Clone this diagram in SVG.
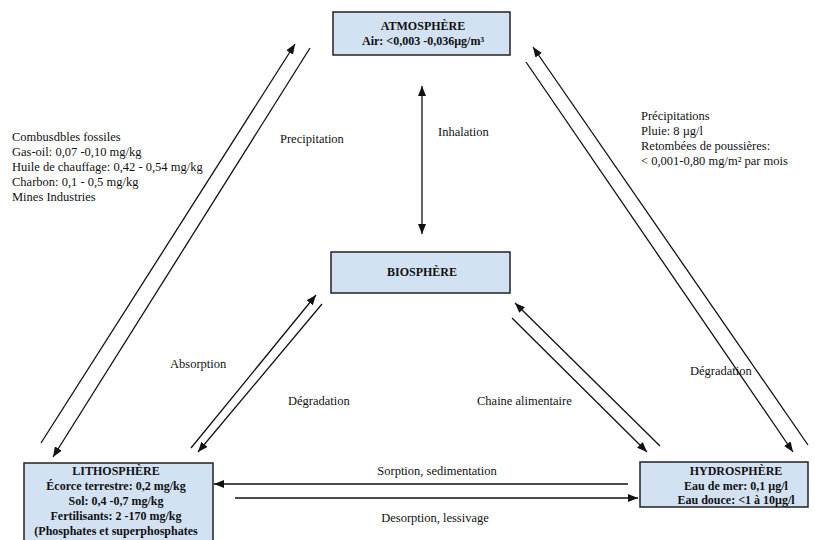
<svg xmlns="http://www.w3.org/2000/svg" width="815" height="540" viewBox="0 0 815 540">
<style>
.box{fill:#d3e2f3;stroke:#222;stroke-width:1.5}
.bt{font-family:'Liberation Serif','DejaVu Serif','Times New Roman',serif;font-size:12px;font-weight:bold;fill:#111;text-anchor:middle}
.lb{font-family:'Liberation Serif','DejaVu Serif','Times New Roman',serif;font-size:12.5px;fill:#111}
.ln{stroke:#111;stroke-width:1.3;fill:none;marker-end:url(#ah)}
</style>
<defs>
<marker id="ah" viewBox="0 0 10 8" refX="10" refY="4" markerWidth="10" markerHeight="8" markerUnits="userSpaceOnUse" orient="auto-start-reverse">
<path d="M0,0 L10,4 L0,8 z" fill="#111"/>
</marker>
</defs>
<g id="connectors">
<line class="ln" x1="41" y1="443" x2="295" y2="44"/>
<line class="ln" x1="310" y1="48" x2="53" y2="457"/>
<line class="ln" x1="808" y1="445" x2="533" y2="47"/>
<line class="ln" x1="526" y1="62" x2="793" y2="452"/>
<line class="ln" x1="422" y1="86" x2="422" y2="234" style="marker-start:url(#ah)"/>
<line class="ln" x1="191" y1="448" x2="316" y2="295"/>
<line class="ln" x1="322" y1="304" x2="198" y2="452"/>
<line class="ln" x1="512" y1="318" x2="647" y2="452"/>
<line class="ln" x1="660" y1="446" x2="515" y2="303"/>
<line class="ln" x1="628" y1="484" x2="214" y2="484"/>
<line class="ln" x1="235" y1="498" x2="638" y2="498"/>
</g>
<g id="atmosphere">
<rect class="box" x="333" y="12" width="177" height="43"/>
<text class="bt" x="423" y="30">ATMOSPHÈRE</text>
<text class="bt" x="423" y="45">Air: &lt;0,003 -0,036µg/m³</text>
</g>
<g id="biosphere">
<rect class="box" x="331" y="252" width="179" height="41"/>
<text class="bt" x="422" y="276">BIOSPHÈRE</text>
</g>
<g id="lithosphere">
<rect class="box" x="24" y="463" width="189" height="78"/>
<text class="bt" x="116" y="475">LITHOSPHÈRE</text>
<text class="bt" x="116" y="490">Écorce terrestre: 0,2 mg/kg</text>
<text class="bt" x="116" y="505">Sol: 0,4 -0,7 mg/kg</text>
<text class="bt" x="116" y="520">Fertilisants: 2 -170 mg/kg</text>
<text class="bt" x="116" y="535">(Phosphates et superphosphates</text>
</g>
<g id="hydrosphere">
<rect class="box" x="640" y="462" width="168" height="45"/>
<text class="bt" x="736" y="475">HYDROSPHÈRE</text>
<text class="bt" x="736" y="490">Eau de mer: 0,1 µg/l</text>
<text class="bt" x="736" y="504">Eau douce: &lt;1 à 10µg/l</text>
</g>
<g id="labels">
<text class="lb" x="12" y="141">Combusdbles fossiles</text>
<text class="lb" x="12" y="156">Gas-oil: 0,07 -0,10 mg/kg</text>
<text class="lb" x="12" y="171">Huile de chauffage: 0,42 - 0,54 mg/kg</text>
<text class="lb" x="12" y="186">Charbon: 0,1 - 0,5 mg/kg</text>
<text class="lb" x="12" y="201">Mines Industries</text>
<text class="lb" x="280" y="143">Precipitation</text>
<text class="lb" x="438" y="136">Inhalation</text>
<text class="lb" x="641" y="120">Précipitations</text>
<text class="lb" x="641" y="135">Pluie: 8 µg/l</text>
<text class="lb" x="641" y="150">Retombées de poussières:</text>
<text class="lb" x="641" y="165">&lt; 0,001-0,80 mg/m² par mois</text>
<text class="lb" x="170" y="368">Absorption</text>
<text class="lb" x="288" y="405">Dégradation</text>
<text class="lb" x="477" y="405">Chaine alimentaire</text>
<text class="lb" x="690" y="375">Dégradation</text>
<text class="lb" x="437" y="475" text-anchor="middle">Sorption, sedimentation</text>
<text class="lb" x="435" y="522" text-anchor="middle">Desorption, lessivage</text>
</g>
</svg>
